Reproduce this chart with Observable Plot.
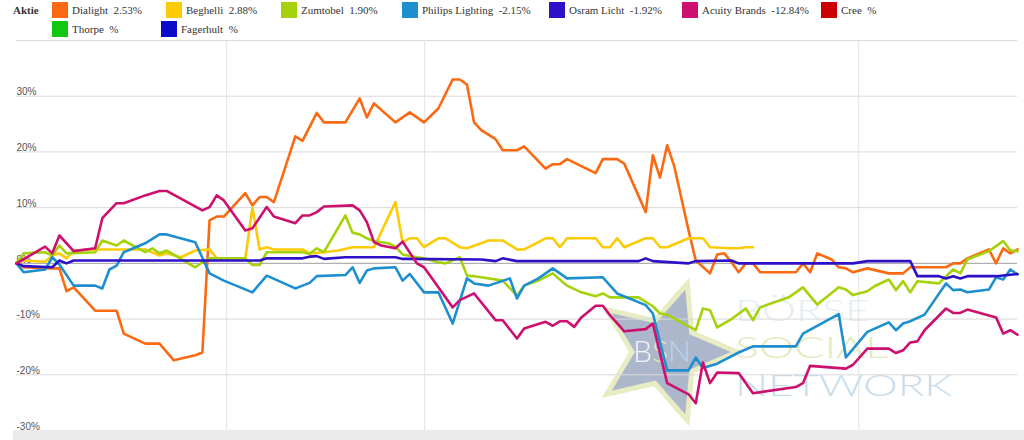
<!DOCTYPE html>
<html><head><meta charset="utf-8">
<script src="https://cdn.jsdelivr.net/npm/d3@7"></script>
<script src="https://cdn.jsdelivr.net/npm/@observablehq/plot@0.6"></script>
<style>
body{margin:0;background:#fff;}
#wrap{position:relative;width:1024px;height:440px;overflow:hidden;background:#fff;}
#legend{position:absolute;left:0;top:0;width:1024px;height:40px;font-family:"Liberation Serif","Times New Roman",serif;font-size:11px;color:#333;z-index:3;}
.item{position:absolute;display:flex;align-items:center;height:16px;white-space:pre;}
.sw{width:16px;height:16px;margin-right:4px;flex:none;}
.head{position:absolute;left:13px;top:4px;font-weight:bold;}
#wm{position:absolute;left:0;top:0;z-index:0;}
#chart{position:absolute;left:0;top:0;z-index:1;}
#band{position:absolute;left:13px;top:430px;width:1011px;height:10px;background:#ebebeb;z-index:2;}
</style></head>
<body>
<div id="wrap">
  <svg id="wm" width="1024" height="440"></svg>
  <div id="chart"></div>
  <div id="band"></div>
  <div id="legend"><div class="head">Aktie</div></div>
</div>
<script>
// ---- data (trading-day index, % change) ----
const seriesNames = ["Dialight","Beghelli","Zumtobel","Philips Lighting","Osram Licht","Acuity Brands","Cree","Thorpe","Fagerhult"];
const seriesChange = ["2.53%","2.88%","1.90%","-2.15%","-1.92%","-12.84%","%","%","%"];
const seriesColors = ["#fb6a12","#fccb05","#a5d20a","#1d8fcf","#2d10c8","#cd0f6e","#cc0000","#10c810","#0a0ac8"];

const dialightDays = [0,1,5,6,7,8,11,14,15,18,20,22,25,26,27,28,29,32,33,34,35,36,39,40,42,43,46,48,49,50,53,55,57,59,61,62,63,64,65,67,68,70,71,74,75,76,77,81,82,84,85,88,89,90,91,92,94,95,97,98,99,100,101,102,103,104,109,110,111,112,114,115,116,117,119,122,124,125,130,131,132,133,136,137,138,139,140];
const dialightPct = [0,-0.7,-0.9,-0.9,-5,-4.3,-8.5,-8.5,-12.6,-14.4,-14.4,-17.4,-16.5,-16,7.7,8.4,8.4,12.6,10.4,11.9,11.9,11,22.8,22,27,25.3,25.3,29.6,26.2,28.7,25.3,27.1,25.3,27.8,33,33,32.1,25.3,23.9,22.3,20.3,20.3,21,17,17.8,17.8,18.7,16.2,18.7,18.7,17.9,9.2,19.4,15.4,21.2,17.4,5.9,0.5,-1.8,1.6,1.8,0.2,-1.6,0,0,-1.6,-1.6,0,-1.6,1.8,0.7,-0.7,-0.9,-1.6,-0.9,-1.8,-1.8,-0.7,-0.7,0,0,0.9,2.5,0,2.7,1.8,2.5];

const beghelliDays = [0,1,4,5,6,7,8,11,14,18,20,21,23,25,27,28,32,33,34,35,36,40,41,43,45,47,50,53,54,55,56,57,59,60,62,63,65,66,68,70,71,74,75,76,77,81,82,83,84,85,88,89,90,91,94,96,97,100,101,102,103];
const beghelliPct = [0,0.5,0.3,1.4,1.8,0.9,2.3,2.5,2.5,2.5,1.4,1.8,1.1,2.3,2.5,0.9,0.9,10,2.5,2.9,2.5,2.5,1.8,2,2.3,2.9,2.9,11,3.8,4.5,4.5,2.9,4.5,4.5,2.9,2.7,3.6,4.1,4.1,2.5,2.5,4.5,4.5,2.9,4.5,4.5,2.9,2.9,4.5,2.9,4.5,4.5,2.9,2.9,4.5,4.5,2.9,2.7,2.7,2.9,2.9];

const zumtobelDays = [0,1,4,5,6,7,11,12,14,15,18,19,20,21,25,26,27,32,33,34,35,40,41,42,43,46,47,48,49,50,52,53,54,56,57,59,60,62,63,64,65,68,70,71,73,75,77,79,81,82,83,87,89,90,91,95,96,97,98,100,102,103,104,108,110,112,115,116,117,119,120,122,123,124,125,126,129,131,132,133,136,138,139,140];
const zumtobelPct = [0,1.8,2,1.4,3.2,1.8,2,4.1,3.2,4.1,2,2.7,1.8,2.3,-0.7,0.2,0.9,0.9,-0.3,-0.3,2,2,1.7,2.7,2,8.6,5.5,5.2,4.5,4,3.6,3,1.6,1.1,0.9,0.2,0,1.1,-2.2,-2.3,-2.5,-3.1,-5.8,-4,-3.1,-1.8,-4,-5.2,-5.9,-5.4,-6.1,-6.1,-7.7,-9,-9.2,-12,-8.1,-8.4,-11.5,-10,-8.1,-10.2,-7.9,-6.1,-4.3,-7.4,-4.3,-4.7,-5.7,-5,-4.1,-2.9,-4.8,-3.2,-5.2,-3.2,-3.6,-1.1,-1.8,0.7,2.2,4,2.3,2.2];

const philipsDays = [0,1,4,5,6,8,11,12,13,14,15,18,20,21,25,27,29,33,35,39,40,41,42,46,47,48,49,50,53,54,55,57,59,61,63,64,66,69,70,71,73,75,77,82,84,88,89,91,94,95,96,98,101,103,109,110,115,116,119,122,123,124,125,127,130,131,132,133,136,137,138,139,140];
const philipsPct = [0,-1.6,-1.1,1.1,-0.2,-4,-4,-4.5,-1.1,-0.4,2,3.6,5.2,5.2,3.8,-1.8,-3.1,-5.2,-2.2,-4.5,-4,-3.5,-2.3,-2.1,-0.7,-3.5,-1.3,-0.9,-0.7,-3.1,-1.9,-5.2,-5.2,-10.8,-2.7,-3.6,-4,-2.7,-6.3,-4,-2.7,-0.9,-2.7,-2.5,-5.4,-7.5,-9,-19.2,-19.2,-16.9,-18.8,-18,-16,-14.9,-14.9,-12.6,-9.1,-16.9,-12.3,-10.6,-12,-10.8,-10.4,-9.2,-3.6,-4.8,-4.7,-5.2,-4.7,-2.5,-2.9,-1.1,-2];

const osramDays = [0,1,5,6,7,8,34,35,40,41,42,43,46,53,54,65,67,68,70,87,88,89,94,95,100,101,117,119,125,126,129,130,131,132,133,137,140];
const osramPct = [0,-0.5,-0.7,0.5,0,0.5,0.5,0.9,0.9,1.2,1.3,0.8,1.1,1.1,0.8,0.7,0.4,0.9,0.4,0.4,0.9,0.4,0,0.4,0.5,0,0,0.4,0.4,-2.3,-2.3,-2.7,-2.3,-2.7,-2.3,-2.3,-1.9];

const acuityDays = [0,4,5,6,8,11,12,14,15,18,20,21,26,27,28,29,32,33,35,36,39,40,41,42,43,47,48,49,50,51,53,54,56,57,59,61,62,64,67,68,70,71,74,75,76,77,78,79,81,82,83,85,88,89,91,94,95,96,97,98,101,103,109,110,111,116,117,119,122,123,124,125,126,127,130,131,132,133,137,138,139,140];
const acuityPct = [0,3,1.8,5,2.2,2.7,8.1,10.8,10.8,12.2,13,13,9.5,10.1,12.2,11.3,5.9,6.3,10.1,8.4,7.2,8.6,8.6,9.2,10.2,10.4,9.5,7.4,3.8,3.2,2.7,3.9,0,-0.7,-4.3,-7.9,-6.6,-5.4,-10.2,-10.2,-13.5,-11.7,-10.5,-11.2,-10.4,-10.4,-11.4,-9.7,-7.6,-7.6,-9.3,-12.2,-11.8,-10.8,-21.5,-23.5,-25.1,-17.8,-21.5,-19.6,-19.7,-23.3,-22.2,-21.5,-18.4,-18.9,-18.2,-15.3,-15.3,-16.1,-15.6,-14.2,-14,-12,-8.1,-8.9,-8.9,-8.3,-9.7,-12.6,-12,-12.8];

const yTicks = [30,20,10,0,-10,-20,-30];
const yGrid = [40,30,20,10,0,-10,-20,-30];
const xGridDays = [29.4,57.1,117.8];

// ---- build rows ----
const seriesData = [
  [dialightDays, dialightPct],
  [beghelliDays, beghelliPct],
  [zumtobelDays, zumtobelPct],
  [philipsDays, philipsPct],
  [osramDays, osramPct],
  [acuityDays, acuityPct]
];
const rows = [];
seriesData.forEach(([days, pct], i) => {
  days.forEach((d, j) => rows.push({series: seriesNames[i], day: d, pct: pct[j]}));
});

// ---- legend ----
const legendPos = [[52,2],[166,2],[281,2],[402,2],[549,2],[682,2],[821,2],[52,21],[161,21]];
const legend = document.getElementById("legend");
seriesNames.forEach((n, i) => {
  const it = document.createElement("div");
  it.className = "item";
  it.style.left = legendPos[i][0] + "px";
  it.style.top = legendPos[i][1] + "px";
  const sw = document.createElement("div");
  sw.className = "sw";
  sw.style.background = seriesColors[i];
  const tx = document.createElement("span");
  tx.textContent = n + "  " + seriesChange[i];
  it.appendChild(sw); it.appendChild(tx);
  legend.appendChild(it);
});

// ---- watermark (decoration behind the chart) ----
const wm = d3.select("#wm");
const cx = 665, cy = 352, R = 72, r = 33;
const starPts = d3.range(10).map(k => {
  const a = k * Math.PI / 5;
  const rad = k % 2 === 0 ? R : r;
  return [cx + rad * Math.cos(a), cy + rad * Math.sin(a)];
});
wm.append("polygon").attr("points", starPts.map(p => p.join(",")).join(" "))
  .attr("fill", "#a9b4ca").attr("stroke", "#e6ecc0").attr("stroke-width", 5).attr("stroke-linejoin","miter").attr("opacity", 0.95);
const bsn = wm.append("text").attr("x", 633).attr("y", 362).attr("font-family","Lato, sans-serif").attr("font-weight",300).attr("font-size", 30);
bsn.append("tspan").attr("fill","#f2f4f8").text("B");
bsn.append("tspan").attr("fill","#e3eab8").text("S");
bsn.append("tspan").attr("fill","#bcd4e8").text("N");
[["BÖRSE",321,"#e4edf4",135],["SOCIAL",358,"#e3eabb",153],["NETWORK",396,"#c7ddec",217]].forEach(([t,y,c,len]) => {
  wm.append("text").attr("x",735).attr("y",y).attr("fill",c)
    .attr("font-family","Lato, 'Open Sans', sans-serif").attr("font-weight",300).attr("font-size",30)
    .attr("textLength",len).attr("lengthAdjust","spacingAndGlyphs").text(t);
});

// ---- chart ----
const chart = Plot.plot({
  width: 1024,
  height: 440,
  marginTop: 40,
  marginBottom: 10,
  marginLeft: 16,
  marginRight: 7,
  style: {background: "transparent", fontFamily: "'Liberation Sans', Arial, sans-serif"},
  x: {domain: [0, 140], axis: null},
  y: {domain: [-30, 40], axis: null},
  color: {domain: seriesNames, range: seriesColors},
  marks: [
    Plot.ruleY(yGrid, {stroke: "#d9d9d9", strokeWidth: 1}),
    Plot.ruleX(xGridDays, {stroke: "#e2e2e2", strokeWidth: 1}),
    Plot.ruleY([0], {stroke: "#a8a8a8", strokeWidth: 1}),
    Plot.text(yTicks, {y: d => d, text: d => d + "%", frameAnchor: "left", textAnchor: "start", dy: -4, fill: "#555", fontSize: 10}),
    Plot.line(rows, {x: "day", y: "pct", z: "series", stroke: "series", strokeWidth: 2.6, strokeLinejoin: "round"})
  ]
});
document.getElementById("chart").appendChild(chart);
</script>
</body></html>
